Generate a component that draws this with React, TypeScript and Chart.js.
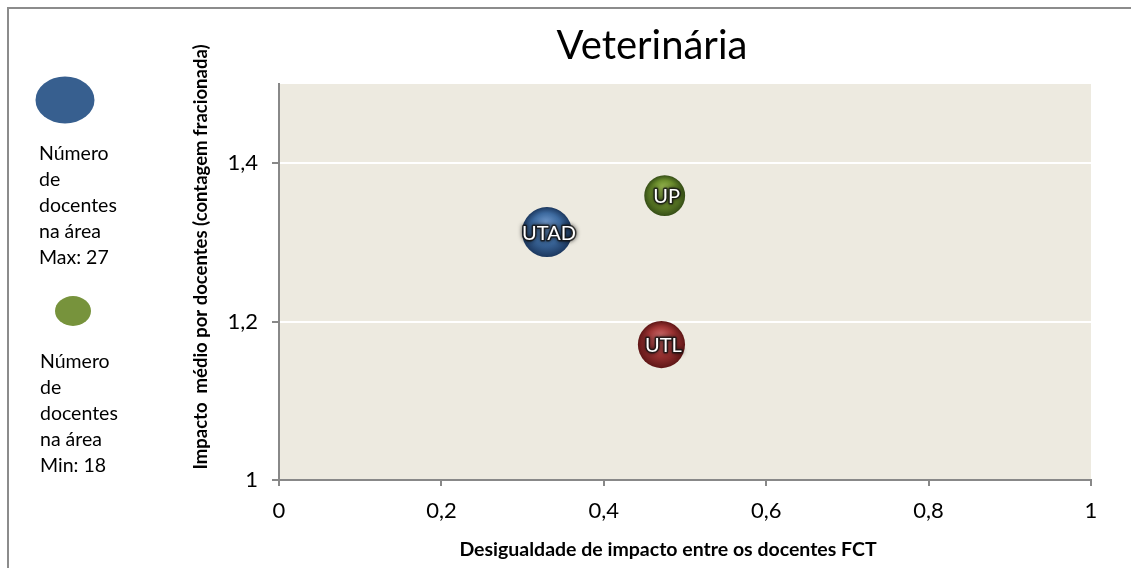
import React, { useEffect, useRef } from "react";
import { Chart, registerables } from "chart.js";

Chart.register(...registerables);

const institutions = ["UTAD", "UP", "UTL"];
const inequality = [0.33, 0.475, 0.471];
const impact = [1.313, 1.359, 1.171];
const docentes = [27, 18, 24];
const xTickValues = [0, 0.2, 0.4, 0.6, 0.8, 1];
const yTickValues = [1, 1.2, 1.4];
const titleText = "Veterinária";
const xTitle = "Desigualdade de impacto entre os docentes FCT";
const yTitle = "Impacto  médio por docentes (contagem fracionada)";
const legendMax = ["Número", "de", "docentes", "na área", "Max: 27"];
const legendMin = ["Número", "de", "docentes", "na área", "Min: 18"];

const FONT = "Lato, 'Open Sans', sans-serif";
const sphereColors = [
  ["#6f97c9", "#3d6a9f", "#1c385f"],
  ["#9fbf55", "#6a8c2c", "#354d16"],
  ["#cf6a6a", "#9e3434", "#5e1616"],
];

const fmt = (v: number) => {
  const r = Math.round(v * 10) / 10;
  return String(r).replace(".", ",");
};

const maxRadius = 25;
const radiusFor = (n: number) => maxRadius * Math.sqrt(n / Math.max(...docentes));

export default function App() {
  const canvasRef = useRef<HTMLCanvasElement | null>(null);

  useEffect(() => {
    if (!canvasRef.current) return;

    const textPlugin = {
      id: "texts",
      afterDatasetsDraw(chart: any) {
        const ctx = chart.ctx;
        const meta = chart.getDatasetMeta(0);
        ctx.save();
        ctx.textAlign = "center";
        ctx.textBaseline = "middle";
        ctx.font = `20px ${FONT}`;
        meta.data.forEach((el: any, i: number) => {
          ctx.save();
          ctx.lineJoin = "round";
          ctx.shadowColor = "rgba(0,0,0,0.9)";
          ctx.shadowBlur = 4;
          ctx.strokeStyle = "rgba(20,20,20,0.75)";
          ctx.lineWidth = 3;
          ctx.strokeText(institutions[i], el.x + 2, el.y + 1);
          ctx.shadowBlur = 0;
          ctx.fillStyle = "#ffffff";
          ctx.fillText(institutions[i], el.x + 2, el.y + 1);
          ctx.restore();
        });
        ctx.restore();
      },
      afterDraw(chart: any) {
        const ctx = chart.ctx;
        ctx.save();
        ctx.fillStyle = "#000";
        ctx.textBaseline = "middle";
        ctx.textAlign = "center";
        ctx.font = `40px ${FONT}`;
        ctx.fillText(titleText, 652, 46);
        ctx.font = `bold 19.5px ${FONT}`;
        ctx.fillText(xTitle, 668, 550);
        ctx.save();
        ctx.translate(201, 257);
        ctx.rotate(-Math.PI / 2);
        ctx.font = `bold 18.5px ${FONT}`;
        ctx.fillText(yTitle, 0, 0);
        ctx.restore();
        // legend
        ctx.fillStyle = "#375f8f";
        ctx.beginPath();
        ctx.ellipse(65, 100, 29.5, 23.5, 0, 0, Math.PI * 2);
        ctx.fill();
        ctx.fillStyle = "#77933c";
        ctx.beginPath();
        ctx.ellipse(73, 311, 18, 15, 0, 0, Math.PI * 2);
        ctx.fill();
        ctx.fillStyle = "#000";
        ctx.textAlign = "left";
        ctx.font = `19.5px ${FONT}`;
        legendMax.forEach((t, i) => ctx.fillText(t, 39, 154 + i * 26));
        legendMin.forEach((t, i) => ctx.fillText(t, 40, 362 + i * 26));
        ctx.restore();
      },
    };

    const bgPlugin = {
      id: "plotbg",
      beforeDraw(chart: any) {
        const { ctx, chartArea } = chart;
        ctx.save();
        ctx.fillStyle = "#edeae0";
        ctx.fillRect(chartArea.left, chartArea.top, chartArea.right - chartArea.left, chartArea.bottom - chartArea.top);
        ctx.restore();
      },
    };

    const chart = new Chart(canvasRef.current, {
      type: "bubble",
      data: {
        datasets: [
          {
            label: "Veterinária",
            data: institutions.map((_, i) => ({ x: inequality[i], y: impact[i], r: radiusFor(docentes[i]) })),
            borderWidth: 0,
            hoverBorderWidth: 0,
            backgroundColor: (c: any) => {
              const chart = c.chart;
              const i = c.dataIndex;
              if (i === undefined || !chart.scales || !chart.scales.x) return sphereColors[0][1];
              const x = chart.scales.x.getPixelForValue(inequality[i]);
              const y = chart.scales.y.getPixelForValue(impact[i]);
              const r = radiusFor(docentes[i]);
              if (!isFinite(x) || !isFinite(y)) return sphereColors[i][1];
              const g = chart.ctx.createRadialGradient(x - r * 0.05, y - r * 0.4, 0, x, y, r);
              g.addColorStop(0, sphereColors[i][0]);
              g.addColorStop(0.6, sphereColors[i][1]);
              g.addColorStop(1, sphereColors[i][2]);
              return g;
            },
          },
        ],
      },
      options: {
        animation: false,
        responsive: false,
        events: [],
        layout: { padding: { left: 0, right: 40, top: 84, bottom: 0 } },
        plugins: { legend: { display: false }, tooltip: { enabled: false }, title: { display: false } },
        scales: {
          x: {
            type: "linear",
            min: 0,
            max: 1,
            afterBuildTicks: (s: any) => {
              s.ticks = xTickValues.map((v) => ({ value: v }));
            },
            afterFit: (s: any) => {
              s.height = 88;
            },
            border: { color: "#888888", width: 2 },
            grid: { drawOnChartArea: false, tickLength: 6, tickColor: "#888888", lineWidth: 2 },
            ticks: {
              color: "#000",
              font: { family: FONT, size: 22 },
              padding: 12,
              maxRotation: 0,
              callback: (v: any) => fmt(Number(v)),
            },
          },
          y: {
            type: "linear",
            min: 1,
            max: 1.5,
            afterBuildTicks: (s: any) => {
              s.ticks = yTickValues.map((v) => ({ value: v }));
            },
            afterFit: (s: any) => {
              s.width = 279;
            },
            border: { color: "#888888", width: 2 },
            grid: {
              color: (c: any) => (c.tick && c.tick.value > 1.01 ? "#ffffff" : "rgba(0,0,0,0)"),
              lineWidth: 2,
              tickLength: 7,
              tickColor: "#888888",
            },
            ticks: {
              color: "#000",
              font: { family: FONT, size: 22 },
              padding: 14,
              callback: (v: any) => fmt(Number(v)),
            },
          },
        },
      },
      plugins: [bgPlugin, textPlugin],
    } as any);

    return () => chart.destroy();
  }, []);

  return (
    <div style={{ position: "fixed", left: 0, top: 0, width: 1131, height: 568, background: "#fff", overflow: "hidden" }}>
      <div
        style={{
          position: "absolute",
          left: 7,
          top: 7,
          width: 1200,
          height: 700,
          borderTop: "2px solid #8c8c8c",
          borderLeft: "2px solid #8c8c8c",
        }}
      />
      <canvas ref={canvasRef} width={1131} height={568} style={{ position: "absolute", left: 0, top: 0 }} />
    </div>
  );
}
